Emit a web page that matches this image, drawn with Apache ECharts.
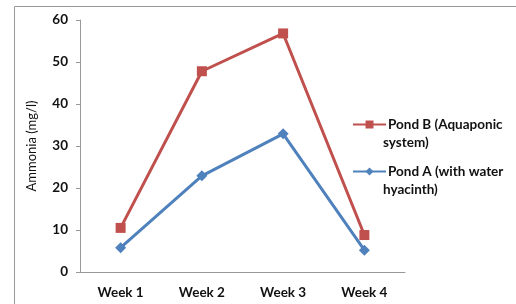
<!DOCTYPE html>
<html><head><meta charset="utf-8">
<script src="https://cdn.jsdelivr.net/npm/echarts@6/dist/echarts.min.js"></script>
<style>html,body{margin:0;padding:0;background:#fff}#c{width:516px;height:304px}</style>
</head><body><div id="c"></div>
<script>
const categories = ['Week 1', 'Week 2', 'Week 3', 'Week 4'];
const pondB = [10.5, 47.8, 56.8, 8.8];
const pondA = [5.8, 22.9, 32.9, 5.2];
const seriesNames = ['Pond B (Aquaponic\nsystem)', 'Pond A (with water\nhyacinth)'];
const yTicks = { min: 0, max: 60, interval: 10 };
const yTitle = 'Ammonia (mg/l)';

const chart = echarts.init(document.getElementById('c'), null, { renderer: 'canvas' });
const font = 'Lato, "Open Sans", sans-serif';
const boldText = { fontFamily: font, fontWeight: 'bold', fontSize: 13.5, fill: '#111', verticalAlign: 'middle' };
chart.setOption({
  animation: false,
  textStyle: { fontFamily: font },
  graphic: [
    { type: 'rect', shape: { x: 14.5, y: 6.5, width: 600, height: 400 }, style: { fill: 'none', stroke: '#999', lineWidth: 1 } },
    { type: 'text', x: 383, y: 143, style: Object.assign({ text: seriesNames[0].split('\n')[1] }, boldText) },
    { type: 'text', x: 383, y: 190, style: Object.assign({ text: seriesNames[1].split('\n')[1] }, boldText) }
  ],
  grid: { left: 80, right: 111, top: 20, bottom: 32 },
  legend: {
    orient: 'vertical', left: 347, top: 110, itemWidth: 33, itemHeight: 10, itemGap: 28,
    formatter: n => n.split('\n')[0],
    textStyle: { fontFamily: font, fontWeight: 'bold', fontSize: 13.5, color: '#111', lineHeight: 19, padding: [0, 0, 0, -3] },
    data: seriesNames
  },
  xAxis: {
    type: 'category', data: categories, boundaryGap: true,
    axisLine: { lineStyle: { color: '#999', width: 1 } },
    axisTick: { show: false },
    axisLabel: { color: '#111', fontWeight: 'bold', fontSize: 13.5, margin: 14, fontFamily: font }
  },
  yAxis: {
    type: 'value', min: yTicks.min, max: yTicks.max, interval: yTicks.interval,
    name: yTitle, nameLocation: 'middle', nameGap: 42, nameRotate: 90,
    nameTextStyle: { color: '#111', fontSize: 13, fontFamily: font },
    axisLine: { show: true, lineStyle: { color: '#999', width: 1 } },
    axisTick: { show: true, length: 4, lineStyle: { color: '#999' } },
    splitLine: { show: false },
    axisLabel: { color: '#111', fontWeight: 'bold', fontSize: 13.5, margin: 12, fontFamily: font }
  },
  series: [
    { name: seriesNames[0], type: 'line', data: pondB, symbol: 'rect', symbolSize: 10,
      lineStyle: { color: '#C0504D', width: 3 }, itemStyle: { color: '#C0504D' } },
    { name: seriesNames[1], type: 'line', data: pondA, symbol: 'diamond', symbolSize: 11,
      lineStyle: { color: '#4F81BD', width: 3 }, itemStyle: { color: '#4F81BD' } }
  ]
});
</script></body></html>
